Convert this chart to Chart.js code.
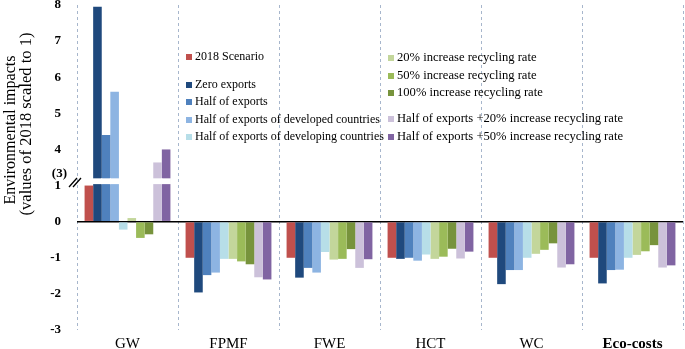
<!DOCTYPE html>
<html>
<head>
<meta charset="utf-8">
<script src="https://cdn.jsdelivr.net/npm/chart.js@4.4.0/dist/chart.umd.min.js"></script>
<style>
  html, body { margin: 0; padding: 0; background: #fff; }
</style>
</head>
<body>
<canvas id="chart" width="685" height="349"></canvas>
<script>
// values (2018 scaled to 1)
const categories = ['GW', 'FPMF', 'FWE', 'HCT', 'WC', 'Eco-costs'];
const scenario_2018   = [1, -1, -1, -1, -1, -1];
const zero_exports    = [7.95, -1.96, -1.55, -1.03, -1.73, -1.71];
const half_exports    = [4.4, -1.48, -1.28, -1.0, -1.34, -1.34];
const half_developed  = [5.6, -1.41, -1.41, -1.08, -1.34, -1.33];
const half_developing = [-0.22, -1.03, -0.84, -0.91, -1.0, -1.0];
const recycle_20      = [0.1, -1.03, -1.05, -1.03, -0.89, -0.92];
const recycle_50      = [-0.45, -1.1, -1.03, -0.97, -0.78, -0.82];
const recycle_100     = [-0.35, -1.18, -0.76, -0.75, -0.6, -0.65];
const half_recycle_20 = [3.64, -1.54, -1.28, -1.02, -1.27, -1.27];
const half_recycle_50 = [4.0, -1.6, -1.04, -0.83, -1.18, -1.21];

const labels = [
  '2018 Scenario',
  'Zero exports',
  'Half of exports',
  'Half of exports of developed countries',
  'Half of exports of developing countries',
  '20% increase recycling rate',
  '50% increase recycling rate',
  '100% increase recycling rate',
  'Half of exports +20% increase recycling rate',
  'Half of exports +50% increase recycling rate'
];
const series = [scenario_2018, zero_exports, half_exports, half_developed, half_developing,
  recycle_20, recycle_50, recycle_100, half_recycle_20, half_recycle_50];
const colors = ['#C0504D', '#1F497D', '#4F81BD', '#8DB4E2', '#B7DEE8',
  '#C3D69B', '#9BBB59', '#77933C', '#CCC1DA', '#8064A2'];

// axis break: values between 1 and 3 are cut out
const y_ticks = [-3, -2, -1, 0, 1, 4, 5, 6, 7, 8];
const break_lo = 1, break_hi = 3;

const toPlot = v => v > break_lo ? v - (break_hi - break_lo) : v;
const toReal = p => p > break_lo ? p + (break_hi - break_lo) : p;

const serif = "'Liberation Serif', 'Times New Roman', serif";

const datasets = series.map((s, i) => ({
  label: labels[i],
  data: s.map(toPlot),
  raw: s,
  backgroundColor: colors[i],
  borderWidth: 0,
  categoryPercentage: 0.85,
  barPercentage: 1.0
}));

// white gap across bars going through the break, axis marks, title and legend
const breakPlugin = {
  id: 'breakPlugin',
  afterDatasetsDraw(chart) {
    const ctx = chart.ctx, y = chart.scales.y;
    const yTop = y.getPixelForValue(1.2), yBot = y.getPixelForValue(1.04);
    ctx.save();
    ctx.fillStyle = '#fff';
    chart.data.datasets.forEach((ds, i) => {
      chart.getDatasetMeta(i).data.forEach((bar, j) => {
        if (ds.raw[j] > break_lo) {
          ctx.fillRect(bar.x - bar.width / 2 - 0.5, yTop, bar.width + 1, yBot - yTop);
        }
      });
    });
    // "//" on the axis
    const ya = y.getPixelForValue(1.1);
    ctx.strokeStyle = '#000';
    ctx.lineWidth = 1.3;
    ctx.beginPath();
    ctx.moveTo(69, ya + 5); ctx.lineTo(77, ya - 4);
    ctx.moveTo(73, ya + 5); ctx.lineTo(81, ya - 4);
    ctx.stroke();
    // "(3)" label
    ctx.fillStyle = '#000';
    ctx.font = 'bold 13px ' + serif;
    ctx.textAlign = 'right';
    ctx.textBaseline = 'middle';
    ctx.fillText('(' + break_hi + ')', 67, y.getPixelForValue(1.33));
    ctx.restore();
  },
  afterDraw(chart) {
    const ctx = chart.ctx;
    ctx.save();
    // y title
    ctx.fillStyle = '#000';
    ctx.textAlign = 'center';
    ctx.textBaseline = 'middle';
    ctx.font = '16px ' + serif;
    ctx.save();
    ctx.translate(11, 130);
    ctx.rotate(-Math.PI / 2);
    ctx.fillText('Environmental impacts', 0, 0);
    ctx.restore();
    ctx.font = '16.5px ' + serif;
    ctx.save();
    ctx.translate(27, 124);
    ctx.rotate(-Math.PI / 2);
    ctx.fillText('(values of 2018 scaled to 1)', 0, 0);
    ctx.restore();

    // legend in two columns
    const cols = [
      { x: 186, size: 12, rows: [[0, 57], [1, 85], [2, 102], [3, 120], [4, 137]] },
      { x: 388, size: 12.6, rows: [[5, 58], [6, 76], [7, 93], [8, 119], [9, 137]] }
    ];
    ctx.textAlign = 'left';
    cols.forEach(c => {
      ctx.font = c.size + 'px ' + serif;
      c.rows.forEach(([i, yy]) => {
        ctx.fillStyle = chart.data.datasets[i].backgroundColor;
        ctx.fillRect(c.x, yy - 3, 6, 6);
        ctx.fillStyle = '#000';
        ctx.fillText(chart.data.datasets[i].label, c.x + 9, yy);
      });
    });
    ctx.restore();
  }
};

new Chart(document.getElementById('chart'), {
  type: 'bar',
  data: { labels: categories, datasets: datasets },
  options: {
    responsive: false,
    animation: false,
    layout: { padding: { top: 5, right: 2, left: 0, bottom: 0 } },
    plugins: {
      legend: { display: false },
      tooltip: { enabled: false }
    },
    scales: {
      x: {
        offset: true,
        grid: {
          offset: true,
          color: '#A7B6CC',
          lineWidth: 1,
          drawTicks: false
        },
        border: { display: false, dash: [3, 3] },
        ticks: {
          padding: 5,
          color: '#000',
          font: c => ({ family: serif, size: 15, weight: c.index === 5 ? 'bold' : 'normal' })
        },
        afterFit: s => { s.height = 19; }
      },
      y: {
        min: toPlot(-3),
        max: toPlot(8),
        afterBuildTicks: s => { s.ticks = y_ticks.map(v => ({ value: toPlot(v) })); },
        grid: {
          color: c => c.tick && c.tick.value === 0 ? '#000' : 'rgba(0,0,0,0)',
          lineWidth: 1.5,
          drawTicks: false
        },
        border: { display: false },
        ticks: {
          padding: 16,
          color: '#000',
          font: { family: serif, size: 13, weight: 'bold' },
          callback: v => String(toReal(v))
        },
        afterFit: s => { s.width = 77; s.paddingTop = 0; s.paddingBottom = 0; }
      }
    }
  },
  plugins: [breakPlugin]
});
</script>
</body>
</html>
